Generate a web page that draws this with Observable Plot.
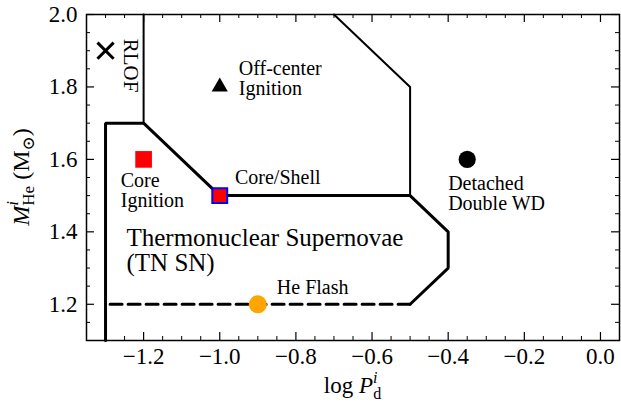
<!DOCTYPE html>
<html>
<head>
<meta charset="utf-8">
<script src="https://cdn.jsdelivr.net/npm/d3@7"></script>
<script src="https://cdn.jsdelivr.net/npm/@observablehq/plot@0.6"></script>
<style>
  body { margin: 0; background: #fff; }
  #chart svg { display: block; font-family: "Liberation Serif", "DejaVu Serif", serif; }
  #chart svg text, #chart svg tspan { font-family: "Liberation Serif", "DejaVu Serif", serif; }
</style>
</head>
<body>
<div id="chart"></div>
<script>
// Outcome channels of He-star + WD binaries in the (log P, M_He) plane.

// Axis ticks
const xMajor = [-1.2, -1.0, -0.8, -0.6, -0.4, -0.2, 0.0];
const xMinor = [-1.30, -1.25, -1.15, -1.10, -1.05, -0.95, -0.90, -0.85, -0.75, -0.70,
                -0.65, -0.55, -0.50, -0.45, -0.35, -0.30, -0.25, -0.15, -0.10, -0.05];
const yMajor = [1.2, 1.4, 1.6, 1.8, 2.0];
const yMinor = [1.15, 1.25, 1.30, 1.35, 1.45, 1.50, 1.55, 1.65, 1.70, 1.75, 1.85, 1.90, 1.95];

// Region boundaries (log P, M_He)
const tnLogP = [-1.3, -1.3, -1.2, -1.0, -0.5, -0.4, -0.4, -0.5];
const tnMass = [1.1, 1.7, 1.7, 1.5, 1.5, 1.4, 1.3, 1.2];
const heFlashLogP = [-0.5, -1.3];
const heFlashMass = [1.2, 1.2];
const rlofLogP = [-1.2, -1.2];
const rlofMass = [2.0, 1.7];
const offCenterLogP = [-0.7, -0.5, -0.5];
const offCenterMass = [2.0, 1.8, 1.5];

// Representative models
const modelNames = ["RLOF", "Off-center Ignition", "Core Ignition", "Core/Shell", "He Flash", "Detached Double WD"];
const modelLogP = [-1.3, -1.0, -1.2, -1.0, -0.9, -0.35];
const modelMass = [1.9, 1.8, 1.6, 1.5, 1.2, 1.6];

const W = 621, H = 402;
const mTop = 14, mBottom = 62, mLeft = 86, mRight = 2;
const innerH = H - mTop - mBottom;
const innerW = W - mLeft - mRight;
const font = "Liberation Serif";
const fmt = d3.format(".1f");

const pts = (xs, ys) => xs.map((x, i) => ({x, y: ys[i]}));
const model = i => [{x: modelLogP[i], y: modelMass[i], name: modelNames[i]}];
const label = (x, y, text, opts = {}) =>
  Plot.text([{x, y}], {x: "x", y: "y", text: () => text, textAnchor: "start", lineHeight: 1,
                       fontSize: 20, fontFamily: font, fill: "black", ...opts});

const chart = Plot.plot({
  width: W,
  height: H,
  marginTop: mTop,
  marginBottom: mBottom,
  marginLeft: mLeft,
  marginRight: mRight,
  x: {domain: [-1.35, 0.05], axis: null},
  y: {domain: [1.1, 2.0], axis: null},
  style: {background: "white", color: "black"},
  marks: [
    // boundaries
    Plot.line(pts(rlofLogP, rlofMass), {x: "x", y: "y", stroke: "black", strokeWidth: 2}),
    Plot.line(pts(offCenterLogP, offCenterMass), {x: "x", y: "y", stroke: "black", strokeWidth: 2}),
    Plot.line(pts(tnLogP, tnMass), {x: "x", y: "y", stroke: "black", strokeWidth: 3, strokeLinejoin: "miter"}),
    Plot.line(pts(heFlashLogP, heFlashMass), {x: "x", y: "y", stroke: "black", strokeWidth: 3, strokeDasharray: "12,6"}),

    // frame and inward ticks on all sides
    Plot.frame({stroke: "black", strokeWidth: 1.5}),
    Plot.tickX(xMajor, {x: d => d, insetTop: innerH - 8, stroke: "black", strokeWidth: 1.2}),
    Plot.tickX(xMajor, {x: d => d, insetBottom: innerH - 8, stroke: "black", strokeWidth: 1.2}),
    Plot.tickX(xMinor, {x: d => d, insetTop: innerH - 4, stroke: "black", strokeWidth: 1}),
    Plot.tickX(xMinor, {x: d => d, insetBottom: innerH - 4, stroke: "black", strokeWidth: 1}),
    Plot.tickY(yMajor, {y: d => d, insetRight: innerW - 8, stroke: "black", strokeWidth: 1.2}),
    Plot.tickY(yMajor, {y: d => d, insetLeft: innerW - 8, stroke: "black", strokeWidth: 1.2}),
    Plot.tickY(yMinor, {y: d => d, insetRight: innerW - 4, stroke: "black", strokeWidth: 1}),
    Plot.tickY(yMinor, {y: d => d, insetLeft: innerW - 4, stroke: "black", strokeWidth: 1}),

    // tick labels
    Plot.text(xMajor, {x: d => d, frameAnchor: "bottom", dy: 23, text: d => fmt(d), fontSize: 23, fontFamily: font, fill: "black"}),
    Plot.text(yMajor, {y: d => d, frameAnchor: "left", dx: -9, textAnchor: "end", text: d => fmt(d), fontSize: 23, fontFamily: font, fill: "black"}),

    // model markers
    Plot.dot(model(0), {x: "x", y: "y", symbol: "times", r: 7.4, stroke: "black", strokeWidth: 3}),
    Plot.dot(model(1), {x: "x", y: "y", symbol: "triangle", r: 6, fill: "black", stroke: "none"}),
    Plot.dot(model(2), {x: "x", y: "y", symbol: "square", r: 9.4, fill: "#ff0000", stroke: "none"}),
    Plot.dot(model(3), {x: "x", y: "y", symbol: "square", r: 8.4, fill: "#ff0000", stroke: "#0000ff", strokeWidth: 2}),
    Plot.dot(model(4), {x: "x", y: "y", r: 9, fill: "#ffa500", stroke: "none"}),
    Plot.dot(model(5), {x: "x", y: "y", r: 8.6, fill: "black", stroke: "none"}),

    // region annotations
    label(-1.233, 1.859, "RLOF", {rotate: 90, textAnchor: "middle", fontSize: 21}),
    label(-0.95, 1.823, "Off-center\nIgnition"),
    label(-1.26, 1.513, "Core\nIgnition"),
    label(-0.96, 1.549, "Core/Shell"),
    label(-1.245, 1.349, "Thermonuclear Supernovae\n(TN SN)", {fontSize: 25}),
    label(-0.85, 1.245, "He Flash"),
    label(-0.4, 1.505, "Detached\nDouble WD")
  ]
});

document.getElementById("chart").appendChild(chart);

// Axis titles with super/subscripts
const svg = d3.select(chart);

const xl = svg.append("text")
  .attr("x", mLeft + innerW / 2)
  .attr("y", 393)
  .attr("text-anchor", "middle")
  .attr("font-family", font)
  .attr("font-size", 23)
  .attr("fill", "black");
xl.append("tspan").text("log ");
xl.append("tspan").attr("font-style", "italic").text("P");
xl.append("tspan").attr("font-style", "italic").attr("font-size", 16).attr("dy", -10).text("i");
xl.append("tspan").attr("font-size", 16).attr("dx", -4.4).attr("dy", 16).text("d");

const yl = svg.append("text")
  .attr("transform", `translate(29,${mTop + innerH / 2}) rotate(-90)`)
  .attr("text-anchor", "middle")
  .attr("font-family", font)
  .attr("font-size", 24)
  .attr("fill", "black");
yl.append("tspan").attr("font-style", "italic").text("M");
yl.append("tspan").attr("font-style", "italic").attr("font-size", 17).attr("dy", -11).text("i");
yl.append("tspan").attr("font-size", 17).attr("dx", -4.7).attr("dy", 16).text("He");
yl.append("tspan").attr("dy", -5).text(" (M");
yl.append("tspan").attr("font-size", 17).attr("dy", 5).text("\u2299");
yl.append("tspan").attr("dy", -5).text(")");
</script>
</body>
</html>
